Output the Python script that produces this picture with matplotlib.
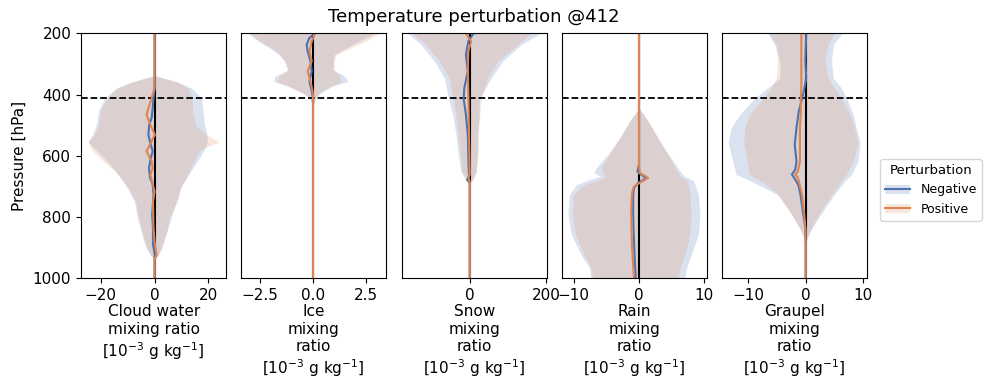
import numpy as np
import matplotlib
matplotlib.use("Agg")
import matplotlib.pyplot as plt
from matplotlib.patches import Patch
from matplotlib.lines import Line2D

# ---- cloud water ----
cw_p_band = [338, 360, 380, 412, 450, 500, 530, 555, 580, 610, 650, 700, 750, 800, 850, 900, 925, 940]
cw_neg_lo = [0, -9, -14.5, -18.5, -20.8, -21.7, -23, -24.8, -22, -18.5, -14.5, -10.5, -7.5, -6.5, -5, -3.2, -1.5, 0]
cw_neg_hi = [0, 9, 14, 17.5, 18, 18.6, 19.5, 19.6, 18.5, 16.5, 13.5, 10, 8, 6.3, 4.5, 2.5, 1.2, 0]
cw_pos_lo = [0, -8.5, -14, -17.5, -20, -21, -22.5, -24.8, -23.5, -20, -14.8, -10, -7, -6, -4.5, -3, -1.2, 0]
cw_pos_hi = [0, 8.5, 12.5, 14, 14.1, 15.3, 19, 24.0, 17, 15, 13, 9.8, 8.5, 5.5, 4.5, 2.8, 1.5, 0]
cw_p_neg = [200, 378, 412, 444, 476, 498, 531, 558, 585, 607, 640, 672, 694, 727, 792, 836, 890, 923, 939, 1000]
cw_neg = [0, 0, -0.4, -0.7, -1.1, -2.0, -2.3, -1.6, -0.7, -1.4, -2.1, -1.7, -0.7, -0.4, -0.9, -0.6, -0.6, 0.1, 0, 0]
cw_p_pos = [200, 378, 412, 444, 466, 498, 531, 558, 585, 618, 640, 661, 694, 716, 749, 792, 836, 890, 923, 939, 1000]
cw_pos = [0, 0, -1.1, -2.3, -3.0, -1.6, 0.1, -1.4, -3.0, -1.1, -0.7, -1.6, -0.7, 0, -0.6, -0.5, -0.4, 0.1, 0.7, 0, 0]

# ---- ice ----
ice_p_band = [200, 225, 250, 270, 291, 320, 340, 357, 373, 395, 412, 440]
ice_neg_lo = [-3.05, -2.6, -2.0, -1.6, -1.35, -1.2, -1.8, -1.85, -1.2, -0.5, -0.15, 0]
ice_neg_hi = [2.9, 2.2, 1.5, 1.0, 0.95, 0.95, 1.5, 1.65, 0.9, 0.35, 0.1, 0]
ice_pos_lo = [-3.0, -2.5, -1.9, -1.55, -1.3, -1.15, -1.6, -1.7, -1.1, -0.45, -0.15, 0]
ice_pos_hi = [3.14, 2.5, 1.7, 1.1, 1.0, 1.0, 1.25, 1.35, 0.8, 0.3, 0.1, 0]
ice_p_neg = [200, 215, 237, 259, 291, 324, 357, 389, 412, 1000]
ice_neg = [0.1, -0.17, -0.3, -0.25, -0.12, -0.06, -0.17, -0.06, 0, 0]
ice_p_pos = [200, 226, 259, 291, 324, 357, 389, 412, 1000]
ice_pos = [0.1, -0.06, -0.17, -0.06, -0.25, -0.12, -0.02, 0, 0]

# ---- snow ----
snow_p_band = [200, 237, 291, 346, 412, 466, 531, 596, 651, 678, 690]
snow_neg_lo = [-161, -127, -92, -66, -56, -44, -36, -30, -23, -10, 0]
snow_neg_hi = [184, 134, 86, 56, 25, 25, 21, 21, 17, 8, 0]
snow_pos_lo = [-150, -114, -79, -53, -44, -36, -31, -24, -21, -9, 0]
snow_pos_hi = [160, 125, 73, 47, 30, 26, 22, 20, 17, 8, 0]
snow_p_neg = [200, 226, 270, 324, 378, 412, 466, 531, 618, 667, 678, 689, 1000]
snow_neg = [10, -3.5, -10, -5, -14, -16, -10, -5, -3.5, -2, -7, 0, 0]
snow_p_pos = [200, 226, 259, 313, 400, 509, 661, 672, 683, 1000]
snow_pos = [-10, 3.5, -3.5, -5, -3.5, -2, 0, -3.5, 0, 0]

# ---- rain ----
rain_p_band = [444, 487, 542, 596, 640, 656, 667, 680, 694, 727, 792, 857, 923, 966, 1000]
rain_neg_lo = [0, -1.45, -3.0, -4.8, -6.6, -6.9, -5.9, -7.9, -9.6, -10.7, -10.9, -10.4, -8.9, -7.6, -7.4]
rain_neg_hi = [0, 1.4, 2.9, 4.5, 6.0, 6.5, 7.0, 8.3, 8.6, 9.1, 9.35, 9.1, 8.0, 7.3, 7.0]
rain_pos_lo = [0, -1.4, -2.9, -4.6, -5.8, -5.6, -5.0, -6.3, -8.4, -10.1, -10.2, -9.8, -8.4, -7.4, -7.1]
rain_pos_hi = [0, 1.4, 2.9, 4.5, 5.5, 6.0, 6.3, 7.3, 7.6, 7.8, 8.0, 7.8, 7.0, 6.3, 6.0]
rain_p_neg = [200, 629, 651, 661, 672, 689, 705, 727, 781, 836, 944, 1000]
rain_neg = [0, 0, -0.25, 0.25, 1.1, -0.15, -0.77, -0.9, -0.9, -0.85, -0.65, -0.5]
rain_p_pos = [200, 629, 656, 672, 685, 700, 721, 781, 890, 1000]
rain_pos = [0, 0, 0.1, 1.4, 0.35, -0.77, -1.08, -1.2, -1.1, -0.77]

# ---- graupel ----
gr_p_band = [200, 237, 291, 346, 378, 412, 466, 509, 558, 618, 661, 683, 727, 781, 836, 880]
gr_neg_lo = [-6.6, -5.4, -4.5, -4.5, -6.6, -8.9, -11.5, -13.0, -13.5, -12.7, -12.1, -9.5, -4.9, -2.8, -1.05, 0]
gr_neg_hi = [6.4, 4.8, 4.5, 4.8, 6.2, 7.1, 8.3, 8.8, 9.5, 9.1, 8.0, 6.8, 5.0, 3.0, 1.1, 0]
gr_pos_lo = [-6.3, -5.1, -4.9, -5.1, -6.0, -7.4, -9.8, -10.6, -10.8, -10.2, -9.8, -7.7, -4.7, -2.8, -1.0, 0]
gr_pos_hi = [5.0, 3.9, 3.3, 3.9, 5.0, 6.2, 7.7, 8.5, 9.1, 8.3, 7.1, 6.2, 4.5, 2.6, 1.0, 0]
gr_p_neg = [200, 291, 346, 378, 412, 455, 509, 564, 618, 645, 661, 672, 694, 727, 781, 836, 890, 1000]
gr_neg = [0.1, -0.05, 0.1, -0.2, -0.6, -1.2, -1.6, -1.9, -1.6, -1.8, -2.4, -2.0, -1.3, -0.9, -0.5, -0.05, 0, 0]
gr_p_pos = [200, 291, 378, 412, 455, 509, 564, 618, 651, 661, 672, 694, 727, 781, 836, 890, 1000]
gr_pos = [-0.75, -0.75, -0.75, -0.85, -0.85, -1.0, -1.0, -1.0, -1.35, -1.8, -1.35, -1.05, -0.65, -0.3, -0.05, 0, 0]

names = ["Cloud water\nmixing ratio", "Ice\nmixing\nratio", "Snow\nmixing\nratio",
         "Rain\nmixing\nratio", "Graupel\nmixing\nratio"]
unit = "[$10^{-3}$ g kg$^{-1}$]"
xlims = [(-27.4, 26.7), (-3.39, 3.45), (-178, 201), (-11.9, 10.4), (-14.66, 10.65)]
xticks = [[-20, 0, 20], [-2.5, 0.0, 2.5], [0, 200], [-10, 0, 10], [-10, 0, 10]]

panels = [
    (cw_p_band, cw_neg_lo, cw_neg_hi, cw_pos_lo, cw_pos_hi, cw_p_neg, cw_neg, cw_p_pos, cw_pos),
    (ice_p_band, ice_neg_lo, ice_neg_hi, ice_pos_lo, ice_pos_hi, ice_p_neg, ice_neg, ice_p_pos, ice_pos),
    (snow_p_band, snow_neg_lo, snow_neg_hi, snow_pos_lo, snow_pos_hi, snow_p_neg, snow_neg, snow_p_pos, snow_pos),
    (rain_p_band, rain_neg_lo, rain_neg_hi, rain_pos_lo, rain_pos_hi, rain_p_neg, rain_neg, rain_p_pos, rain_pos),
    (gr_p_band, gr_neg_lo, gr_neg_hi, gr_pos_lo, gr_pos_hi, gr_p_neg, gr_neg, gr_p_pos, gr_pos),
]

c_neg = "#4C72B0"
c_pos = "#DD8452"
plt.rcParams['font.size'] = 11

W, H = 985, 383
fig = plt.figure(figsize=(W / 100, H / 100), dpi=100)
lefts = [81, 241, 401.5, 561.5, 721.5]
for i, (pb, nlo, nhi, plo, phi, pn, vn, pp, vp) in enumerate(panels):
    ax = fig.add_axes([lefts[i] / W, 1 - 278.3 / H, 145.3 / W, 245 / H])
    ax.fill_betweenx(pb, nlo, nhi, color=c_neg, alpha=0.2, lw=0)
    ax.fill_betweenx(pb, plo, phi, color=c_pos, alpha=0.2, lw=0)
    ax.axvline(0, color="black", lw=1.5)
    ax.axhline(412, color="black", ls="--", lw=1.3)
    ax.plot(vn, pn, color=c_neg, lw=1.5)
    ax.plot(vp, pp, color=c_pos, lw=1.5)
    ax.set_ylim(1000, 200)
    ax.set_xlim(*xlims[i])
    ax.set_xticks(xticks[i])
    ax.set_xlabel(names[i] + "\n" + unit, labelpad=1)
    if i == 0:
        ax.set_yticks([200, 400, 600, 800, 1000])
        ax.set_ylabel("Pressure [hPa]")
    else:
        ax.set_yticks([])

fig.suptitle("Temperature perturbation @412", x=474 / W, y=1 - 17 / H, va="center", fontsize=13)

handles = [(Patch(color=c_neg, alpha=0.2, lw=0), Line2D([], [], color=c_neg, lw=1.5)),
           (Patch(color=c_pos, alpha=0.2, lw=0), Line2D([], [], color=c_pos, lw=1.5))]
fig.legend(handles, ["Negative", "Positive"], title="Perturbation", fontsize=9, title_fontsize=9.5,
           loc="center left", bbox_to_anchor=(874 / W, 1 - 190 / H))

fig.savefig("out.png", dpi=100)
